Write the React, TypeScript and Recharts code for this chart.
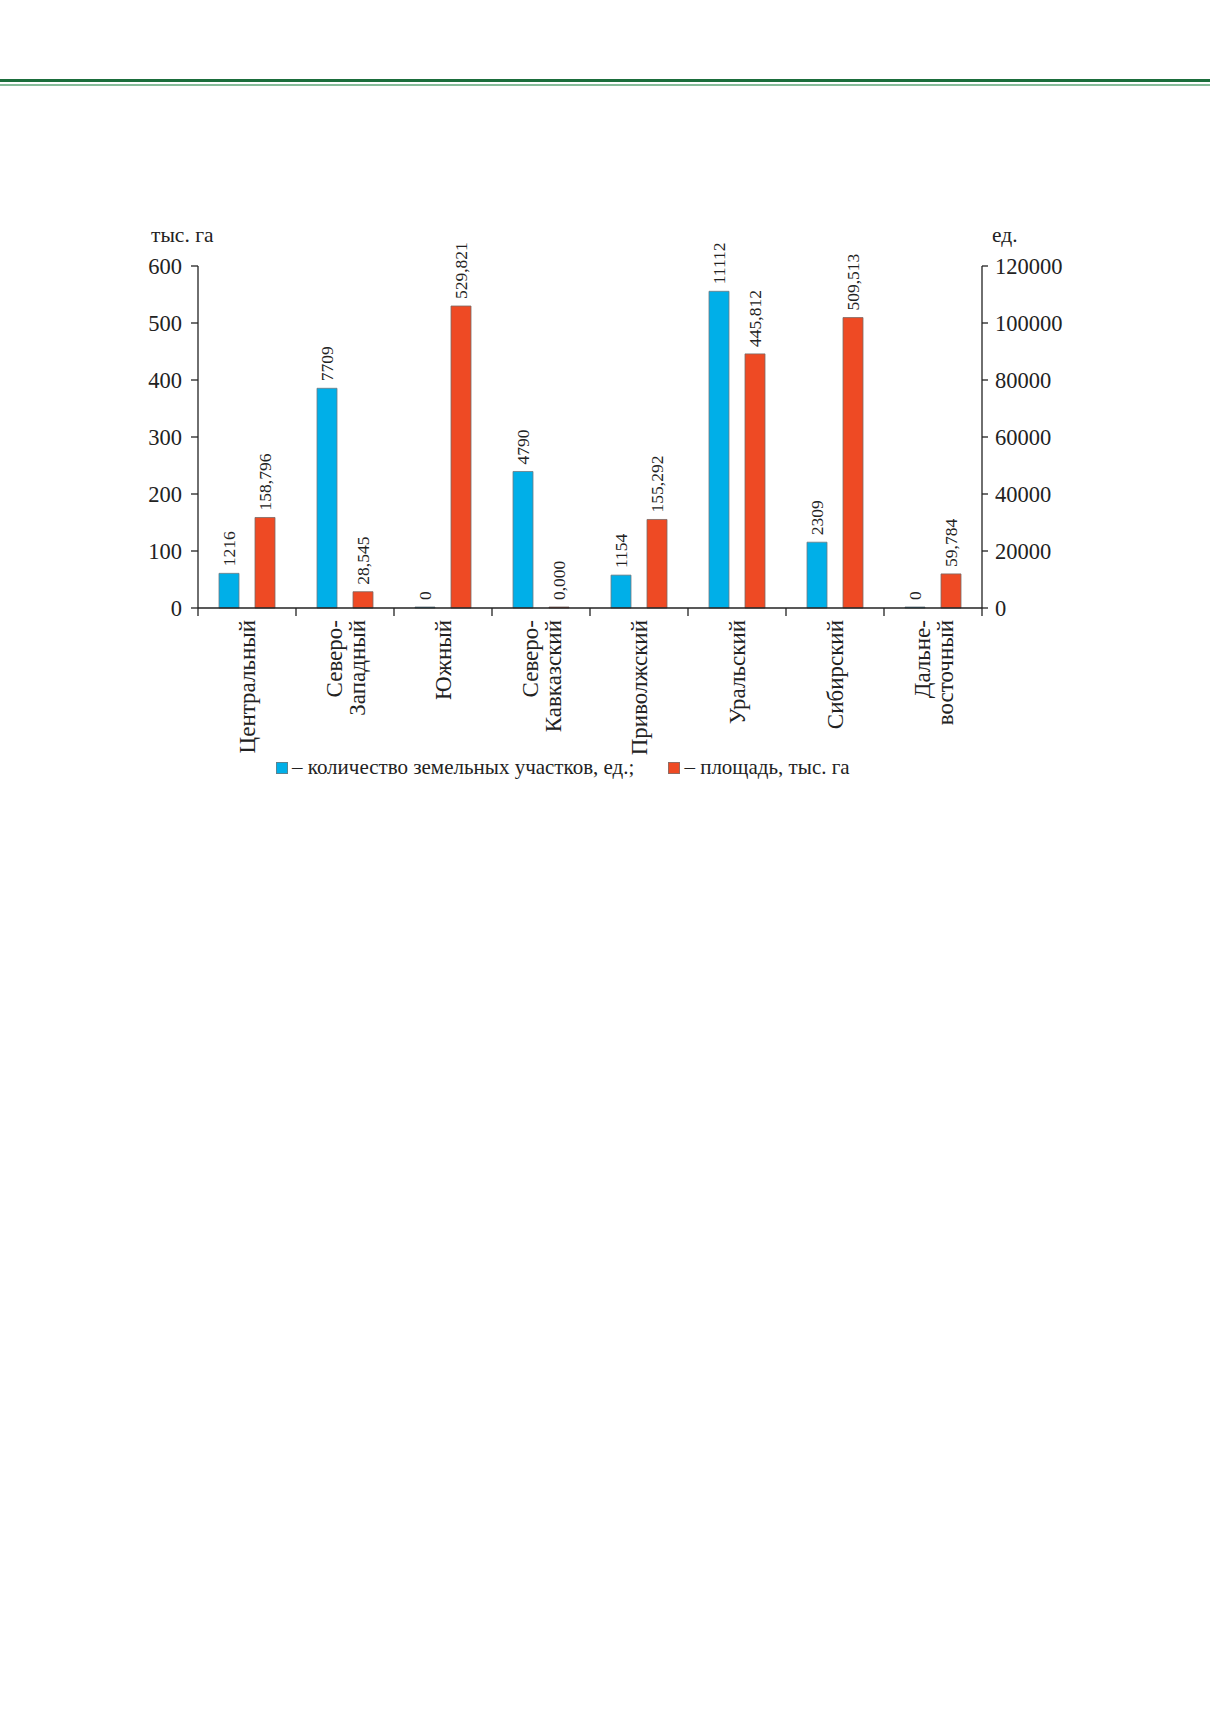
import { Bar, BarChart, LabelList, Legend, XAxis, YAxis } from 'recharts';

const SERIF = '"Liberation Serif", "Times New Roman", serif';
const BLUE = '#00afe8';
const RED = '#ee4a24';
const INK = '#222';

// федеральные округа
const regions = [
    'Центральный',
    'Северо-\nЗападный',
    'Южный',
    'Северо-\nКавказский',
    'Приволжский',
    'Уральский',
    'Сибирский',
    'Дальне-\nвосточный',
];
// количество земельных участков, ед.
const parcelCounts = [1216, 7709, 0, 4790, 1154, 11112, 2309, 0];
// площадь, тыс. га
const areaThousandHa = [158.796, 28.545, 529.821, 0, 155.292, 445.812, 509.513, 59.784];

const leftTicks = [0, 100, 200, 300, 400, 500, 600];
// the source draws the counts against a right scale labelled x10
const rightTicks = [0, 2000, 4000, 6000, 8000, 10000, 12000];
const rightTickLabels = ['0', '20000', '40000', '60000', '80000', '100000', '120000'];

const data = regions.map((region, i) => ({
    region,
    count: parcelCounts[i],
    area: areaThousandHa[i],
}));

const fmtArea = (v: number) => v.toFixed(3).replace('.', ',');

function valueLabel(format: (v: number) => string) {
    return (props: any) => {
        const { x, y, width, value } = props;
        const cx = Number(x) + Number(width) / 2;
        const top = Number(y) - 7;
        return (
            <text
                x={cx}
                y={top}
                dy="0.35em"
                transform={`rotate(-90, ${cx}, ${top})`}
                textAnchor="start"
                fontSize={17.5}
                fontFamily={SERIF}
                fill={INK}
            >
                {format(Number(value))}
            </text>
        );
    };
}

function RegionTick(props: any) {
    const { x, y, payload, index, visibleTicksCount } = props;
    const half = payload?.offset ?? 49;
    const lines = String(payload.value).split('\n');
    const ay = y + 12;
    const lh = 23;
    return (
        <g>
            <line x1={x - half} x2={x - half} y1={y} y2={y + 8} stroke={INK} strokeWidth={1.3} />
            {index === visibleTicksCount - 1 && (
                <line x1={x + half} x2={x + half} y1={y} y2={y + 8} stroke={INK} strokeWidth={1.3} />
            )}
            <text
                x={x}
                y={ay}
                transform={`rotate(-90, ${x}, ${ay})`}
                textAnchor="end"
                fontSize={23}
                fontFamily={SERIF}
                fill={INK}
            >
                {lines.map((l, i) => (
                    <tspan key={i} x={x} dy={i === 0 ? -((lines.length - 1) * lh) / 2 + 8 : lh}>
                        {l}
                    </tspan>
                ))}
            </text>
        </g>
    );
}

const renderLegend = () => (
    <div style={{ display: 'flex', alignItems: 'center', fontFamily: SERIF, fontSize: 21, color: INK, whiteSpace: 'nowrap' }}>
        <span style={{ display: 'inline-block', width: 12, height: 12, background: BLUE, boxShadow: 'inset 0 0 0 0.7px #777', marginRight: 4 }} />
        <span>– количество земельных участков, ед.;</span>
        <span style={{ display: 'inline-block', width: 34 }} />
        <span style={{ display: 'inline-block', width: 12, height: 12, background: RED, boxShadow: 'inset 0 0 0 0.7px #777', marginRight: 4 }} />
        <span>– площадь, тыс. га</span>
    </div>
);

export default function App() {
    return (
        <div style={{ position: 'absolute', top: 0, left: 0, width: 1210, height: 1712, background: '#fff' }}>
            <div style={{ position: 'absolute', top: 79, left: 0, width: 1210, height: 3, background: '#1b6d3b' }} />
            <div style={{ position: 'absolute', top: 84, left: 0, width: 1210, height: 2, background: '#86bc9a' }} />
            <div style={{ position: 'absolute', top: 0, left: 0 }}>
                <BarChart
                    width={1210}
                    height={820}
                    data={data}
                    margin={{ top: 266, right: 168, left: 138, bottom: 32 }}
                    barGap={16}
                    style={{ fontFamily: SERIF }}
                >
                    <XAxis
                        dataKey="region"
                        interval={0}
                        height={180}
                        tickLine={false}
                        tickSize={0}
                        tickMargin={0}
                        axisLine={{ stroke: INK, strokeWidth: 1.3 }}
                        tick={<RegionTick />}
                    />
                    <YAxis
                        yAxisId="area"
                        orientation="left"
                        width={60}
                        domain={[0, 600]}
                        ticks={leftTicks}
                        interval={0}
                        tickSize={7}
                        tickMargin={9}
                        axisLine={{ stroke: INK, strokeWidth: 1.3 }}
                        tickLine={{ stroke: INK, strokeWidth: 1.3 }}
                        tick={{ fontSize: 22.5, fill: INK, fontFamily: SERIF }}
                        label={({ viewBox }: any) => (
                            <text x={viewBox.x + 13} y={viewBox.y - 24} fontSize={21.5} fontFamily={SERIF} fill={INK}>
                                тыс. га
                            </text>
                        )}
                    />
                    <YAxis
                        yAxisId="count"
                        orientation="right"
                        width={60}
                        domain={[0, 12000]}
                        ticks={rightTicks}
                        interval={0}
                        tickSize={6}
                        tickMargin={7}
                        tickFormatter={(v: number) => rightTickLabels[rightTicks.indexOf(v)]}
                        axisLine={{ stroke: INK, strokeWidth: 1.3 }}
                        tickLine={{ stroke: INK, strokeWidth: 1.3 }}
                        tick={{ fontSize: 22.5, fill: INK, fontFamily: SERIF }}
                        label={({ viewBox }: any) => (
                            <text x={viewBox.x + 10} y={viewBox.y - 24} fontSize={21.5} fontFamily={SERIF} fill={INK}>
                                ед.
                            </text>
                        )}
                    />
                    <Legend
                        verticalAlign="middle"
                        layout="horizontal"
                        content={renderLegend}
                        wrapperStyle={{ position: 'absolute', top: 755, left: 276, width: 'auto' }}
                    />
                    <Bar yAxisId="count" dataKey="count" barSize={20} fill={BLUE} stroke="#6f7a80" strokeWidth={0.8} minPointSize={1} isAnimationActive={false}>
                        <LabelList dataKey="count" content={valueLabel((v) => String(v))} />
                    </Bar>
                    <Bar yAxisId="area" dataKey="area" barSize={20} fill={RED} stroke="#7a6a66" strokeWidth={0.8} minPointSize={1} isAnimationActive={false}>
                        <LabelList dataKey="area" content={valueLabel(fmtArea)} />
                    </Bar>
                </BarChart>
            </div>
        </div>
    );
}
